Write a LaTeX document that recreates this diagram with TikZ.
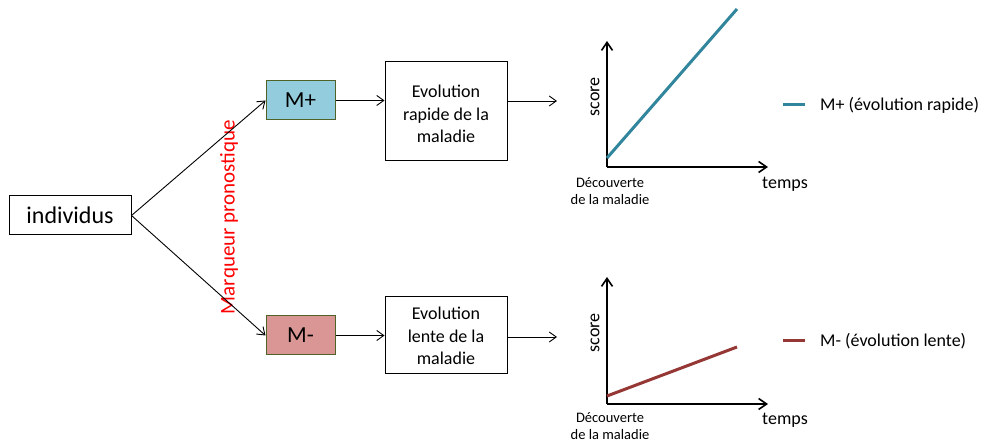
\documentclass[tikz,border=0pt]{standalone}
\usepackage{fontspec}
\setmainfont{Carlito}
\usetikzlibrary{arrows.meta}
\definecolor{mpfill}{HTML}{93CDDD}
\definecolor{mmfill}{HTML}{D99694}
\definecolor{mborder}{HTML}{4F6228}
\definecolor{bluel}{HTML}{31859C}
\definecolor{redl}{HTML}{953735}
\tikzset{
  fs/.style={font=\fontsize{#1}{#1}\selectfont},
  plainbox/.style={draw=black, line width=1pt, inner sep=0pt},
  mbox/.style={draw=mborder, line width=1pt, inner sep=0pt, minimum width=69pt, minimum height=39pt, fs=23},
  conn/.style={line width=0.9pt, -{Straight Barb[length=7pt,width=10pt]}},
  axis/.style={line width=2pt, -{Straight Barb[length=8pt,width=11pt,line width=1.6pt]}},
  evotext/.style={align=center, font=\fontsize{18}{22.5}\selectfont},
}
\begin{document}
\begin{tikzpicture}[x=1pt,y=-1pt]
\useasboundingbox (0,0) rectangle (986,443);
% main nodes
\node[plainbox, minimum width=122pt, minimum height=39pt, fs=24] (ind) at (70,215.5) {individus};
\node[mbox, fill=mpfill] (mp) at (300.5,100.5) {M+};
\node[mbox, fill=mmfill] (mm) at (300.5,335.5) {M-};
\node[plainbox, minimum width=122pt, minimum height=99pt] (e1) at (446,111.5) {};
\node[evotext] (e1t) at (446,114) {Evolution\\rapide de la\\maladie};
\node[plainbox, minimum width=122pt, minimum height=77pt] (e2) at (446,335.5) {};
\node[evotext] (e2t) at (446,336) {Evolution\\lente de la\\maladie};
% label
\node[rotate=90, text=red, fs=21] (marq) at (229,217) {Marqueur pronostique};
% connectors
\draw[conn] (ind.east) -- (mp.west);
\draw[conn] (ind.east) -- (mm.west);
\draw[conn] (mp.east) -- (mp.east -| e1.west);
\draw[conn] (mm.east) -- (e2.west);
\coordinate (g1in) at (557,101);
\coordinate (g2in) at (557,337);
\draw[conn] (e1.east |- g1in) -- (g1in);
\draw[conn] (e2.east |- g2in) -- (g2in);
% graph 1
\coordinate (o1) at (607,167);
\coordinate (y1) at (607,41);
\coordinate (x1) at (768,167);
\draw[axis] (o1) -- (y1);
\draw[axis] (o1) -- (x1);
\coordinate (b1s) at (607,158);
\coordinate (b1e) at (737,9);
\draw[bluel, line width=3pt] (b1s) -- (b1e);
\node[rotate=90, fs=18] (sc1) at (595,97) {score};
\node[fs=18] (t1) at (785,184) {temps};
\node[align=center, font=\fontsize{14.5}{17}\selectfont] (d1) at (610,191.5) {Découverte\\de la maladie};
\coordinate (l1a) at (783,105);
\coordinate (l1b) at (805,105);
\draw[bluel, line width=3pt] (l1a) -- (l1b);
\node[anchor=west, fs=18, inner sep=0pt] (lg1) at (820,105) {M+ (évolution rapide)};
% graph 2
\coordinate (o2) at (607,404);
\coordinate (y2) at (607,277);
\coordinate (x2) at (768,404);
\draw[axis] (o2) -- (y2);
\draw[axis] (o2) -- (x2);
\coordinate (r2s) at (607,396);
\coordinate (r2e) at (737,347);
\draw[redl, line width=3pt] (r2s) -- (r2e);
\node[rotate=90, fs=18] (sc2) at (595,333) {score};
\node[fs=18] (t2) at (785,420) {temps};
\node[align=center, font=\fontsize{14.5}{17}\selectfont] (d2) at (610,426) {Découverte\\de la maladie};
\coordinate (l2a) at (783,341);
\coordinate (l2b) at (805,341);
\draw[redl, line width=3pt] (l2a) -- (l2b);
\node[anchor=west, fs=18, inner sep=0pt] (lg2) at (820,341) {M- (évolution lente)};
\end{tikzpicture}
\end{document}
